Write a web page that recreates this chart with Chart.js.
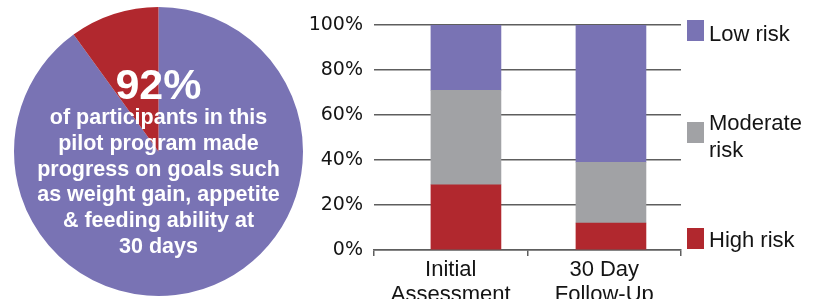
<!DOCTYPE html>
<html>
<head>
<meta charset="utf-8">
<script src="https://cdn.jsdelivr.net/npm/chart.js@4.4.1/dist/chart.umd.min.js"></script>
<style>
  html, body { margin: 0; padding: 0; background: #fff; }
  body { width: 820px; height: 299px; position: relative; overflow: hidden; }
  #pie { position: absolute; left: 0; top: 0; }
  #bars { position: absolute; left: 300px; top: 0; }
  .pie-text {
    position: absolute; left: 0; width: 317px; text-align: center; color: #fff;
    font-family: 'Liberation Sans', Arial, sans-serif; font-weight: bold; white-space: nowrap;
  }
  #big { top: 63px; font-size: 43px; line-height: 43px; }
  #caption { top: 105px; font-size: 21.5px; line-height: 25.8px; }
  .leg { position: absolute; left: 687px; width: 17px; height: 21px; }
  .leg-label {
    position: absolute; left: 709px; color: #141414;
    font-family: 'Liberation Sans', Arial, sans-serif; font-size: 22px; line-height: 27px;
  }
</style>
</head>
<body>
<canvas id="pie" width="320" height="299"></canvas>
<canvas id="bars" width="400" height="299"></canvas>

<div id="big" class="pie-text">92%</div>
<div id="caption" class="pie-text"></div>
<div id="legend"></div>

<script>
// ── Palette ───────────────────────────────────────────
const PURPLE = '#7973B4';
const GREY = '#A1A2A5';
const RED = '#B1282E';

// ── Pie data (share of participants) ──────────────────
const pieLabels = ['Made progress', 'No progress'];
const pieValues = [90, 10];
const captionLines = [
  'of participants in this',
  'pilot program made',
  'progress on goals such',
  'as weight gain, appetite',
  '& feeding ability at',
  '30 days',
];

// ── Bar data (risk level, % of participants) ──────────
const categories = [['Initial', 'Assessment'], ['30 Day', 'Follow-Up']];
const highRisk = [29, 12];
const moderateRisk = [42, 27];
const lowRisk = [29, 61];
const yTicks = [0, 20, 40, 60, 80, 100];

// legend: [label lines, colour, box top, text top]
const legendItems = [
  [['Low risk'], PURPLE, 20, 20],
  [['Moderate', 'risk'], GREY, 122, 109],
  [['High risk'], RED, 228, 226],
];

document.getElementById('caption').innerHTML = captionLines.join('<br>');

const legendEl = document.getElementById('legend');
legendItems.forEach(([lines, color, boxTop, textTop]) => {
  const box = document.createElement('div');
  box.className = 'leg';
  box.style.top = boxTop + 'px';
  box.style.background = color;
  legendEl.appendChild(box);
  const txt = document.createElement('div');
  txt.className = 'leg-label';
  txt.style.top = textTop + 'px';
  txt.innerHTML = lines.join('<br>');
  legendEl.appendChild(txt);
});

// ── Pie ───────────────────────────────────────────────
new Chart(document.getElementById('pie'), {
  type: 'pie',
  data: {
    labels: pieLabels,
    datasets: [{
      data: pieValues,
      backgroundColor: [PURPLE, RED],
      borderWidth: 0,
      hoverOffset: 0,
    }],
  },
  options: {
    responsive: false,
    animation: false,
    radius: 144.5,
    layout: { padding: { left: 0, right: 3, top: 4, bottom: 0 } },
    plugins: { legend: { display: false }, tooltip: { enabled: false } },
  },
});

// ── Stacked bars ──────────────────────────────────────
// bars sit a bit right of the category centres in the original, so they
// ride on a hidden linear axis while the category axis draws labels/ticks
const gridColor = '#5e5e5e';
const toPoints = (arr) => arr.map((v, i) => ({ x: i, y: v }));

new Chart(document.getElementById('bars'), {
  type: 'bar',
  data: {
    labels: categories,
    datasets: [
      { label: 'High risk', data: toPoints(highRisk), backgroundColor: RED, xAxisID: 'xb' },
      { label: 'Moderate risk', data: toPoints(moderateRisk), backgroundColor: GREY, xAxisID: 'xb' },
      { label: 'Low risk', data: toPoints(lowRisk), backgroundColor: PURPLE, xAxisID: 'xb' },
    ],
  },
  options: {
    responsive: false,
    animation: false,
    barThickness: 70,
    layout: { padding: { left: 0, right: 19, top: 25, bottom: 0 } },
    plugins: { legend: { display: false }, tooltip: { enabled: false } },
    scales: {
      x: {
        type: 'category',
        grid: { drawOnChartArea: false, drawTicks: true, tickLength: 6, color: gridColor, lineWidth: 1.5 },
        border: { color: gridColor, width: 1.5 },
        ticks: {
          color: '#141414',
          padding: 1,
          font: { family: "'Liberation Sans', Arial, sans-serif", size: 22, lineHeight: 1.15 },
        },
        afterFit: (s) => { s.height = 49; },
      },
      xb: {
        type: 'linear',
        position: 'bottom',
        stacked: true,
        display: false,
        offset: false,
        grid: { offset: false },
        min: -0.634,
        max: 1.483,
      },
      y: {
        stacked: true,
        min: 0,
        max: 100,
        afterBuildTicks: (s) => { s.ticks = yTicks.map((v) => ({ value: v })); },
        grid: { drawTicks: false, color: gridColor, lineWidth: 1.5 },
        border: { display: false },
        ticks: {
          color: '#141414',
          padding: 11,
          font: { family: "'DejaVu Sans', sans-serif", size: 19 },
          callback: (v) => v + '%',
        },
        afterFit: (s) => { s.width = 74; },
      },
    },
  },
});
</script>
</body>
</html>
